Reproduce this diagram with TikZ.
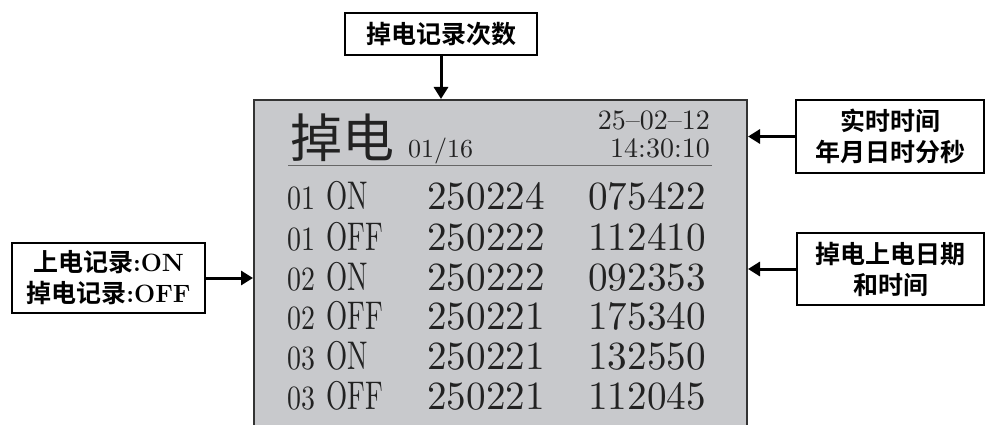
\documentclass[tikz,border=0pt]{standalone}
\usepackage{fontspec}
\usetikzlibrary{arrows.meta}
\newfontfamily\cjk{Noto Sans CJK SC}[BoldFont={Noto Sans CJK SC Bold}]
\newfontfamily\lmten{lmroman10-regular.otf}
\definecolor{scrgray}{RGB}{200,201,204}
\definecolor{ink}{RGB}{34,34,34}
\begin{document}
\begin{tikzpicture}[x=1pt,y=-1pt,
  lbl/.style={draw=black,line width=1.5pt,fill=white,align=center,inner sep=0pt,
    font=\cjk\bfseries\fontsize{25}{31}\selectfont},
  arr/.style={line width=3pt,-{Triangle[length=12pt,width=14pt]}},
  rowtxt/.style={anchor=base west,inner sep=0pt,text=ink,font=\lmten\fontsize{40}{40}\selectfont},
  hdr/.style={inner sep=0pt,text=ink,font=\lmten\fontsize{28}{28}\selectfont},
]
\clip (0,0) rectangle (986,425);
% screen
\node[draw=black!80,line width=2pt,fill=scrgray,minimum width=493pt,minimum height=360pt,
      inner sep=0pt,anchor=north west] (screen) at (253,99) {};
% header
\node[anchor=base west,inner sep=0pt,text=ink,font=\cjk\fontsize{52}{52}\selectfont] (title) at (290,158) {掉电};
\node[hdr,anchor=base west,font=\lmten\fontsize{26}{26}\selectfont] (count) at (408,158) {01/16};
\node[hdr,anchor=base east] (date) at (710,130) {25–02–12};
\node[hdr,anchor=base east] (time) at (710,158) {14:30:10};
\draw[black!60,line width=1pt] (288,166) -- (712,166);
% rows
\foreach \i/\y/\n/\s/\d/\t in {1/210/01/ON/250224/075422,
                                2/250/01/OFF/250222/112410,
                                3/290/02/ON/250222/092353,
                                4/329/02/OFF/250221/175340,
                                5/369/03/ON/250221/132550,
                                6/409/03/OFF/250221/112045}{
  \node[rowtxt,font=\lmten\fontsize{34}{34}\selectfont] (n\i) at (287,\y) {\scalebox{0.82}[1]{\n}};
  \node[rowtxt] (s\i) at (326,\y) {\scalebox{0.68}[1]{\s}};
  \node[rowtxt] (d\i) at (427,\y) {\scalebox{0.98}[1]{\d}};
  \node[rowtxt] (t\i) at (588,\y) {\scalebox{0.98}[1]{\t}};
}
% label boxes
\node[lbl,minimum width=192pt,minimum height=42pt] (top) at (441,34) {掉电记录次数};
\node[lbl,minimum width=188pt,minimum height=73pt] (rt1) at (890,136.5) {实时时间\\年月日时分秒};
\node[lbl,minimum width=187pt,minimum height=72pt] (rt2) at (890.5,269) {掉电上电日期\\和时间};
\node[lbl,minimum width=193pt,minimum height=70pt] (lf) at (108.5,278) {上电记录{\normalfont\bfseries:ON}\\掉电记录{\normalfont\bfseries:OFF}};
% arrows
\draw[arr] (top.south) -- (top.south |- screen.north);
\draw[arr] (rt1.west) -- (rt1.west -| screen.east);
\draw[arr] (rt2.west) -- (rt2.west -| screen.east);
\draw[arr] (lf.east) -- (lf.east -| screen.west);
\end{tikzpicture}
\end{document}
